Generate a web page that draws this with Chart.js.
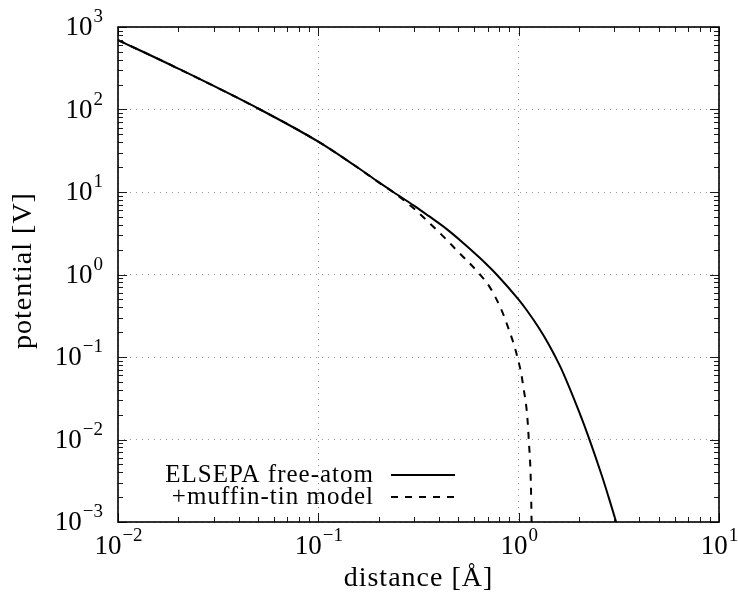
<!DOCTYPE html>
<html>
<head>
<meta charset="utf-8">
<script src="https://cdn.jsdelivr.net/npm/chart.js@4.4.0/dist/chart.umd.min.js"></script>
<style>
  html, body { margin: 0; padding: 0; background: #fff; }
  canvas { display: block; }
</style>
</head>
<body>
<canvas id="potChart" width="738" height="599"></canvas>
<script>
// Data (log-log)
const freeAtomX = [0.01, 0.02, 0.0512, 0.1, 0.15, 0.2, 0.2366, 0.3, 0.355, 0.4375, 0.525, 0.641, 0.776, 1.0, 1.1, 1.26, 1.4, 1.52, 1.65, 2.0, 2.25, 2.6, 2.8, 3.05, 3.3];
const freeAtomY = [695, 313, 100, 40.7, 21.4, 13.2, 10, 6.84, 5.13, 3.55, 2.45, 1.585, 1.0, 0.495, 0.366, 0.226, 0.148, 0.102, 0.068, 0.0219, 0.0102, 0.00366, 0.00207, 0.00104, 0.00052];
const muffinX = [0.01, 0.02, 0.0512, 0.1, 0.15, 0.2, 0.237, 0.3, 0.375, 0.43, 0.489, 0.641, 0.72, 0.807, 0.871, 0.985, 1.05, 1.123, 1.16, 1.17];
const muffinY = [695, 313, 100, 40.7, 21.4, 13.1, 9.9, 6.3, 3.8, 2.74, 1.98, 1.0, 0.693, 0.407, 0.256, 0.1, 0.047, 0.01, 0.001, 0.0001];
const seriesLabels = ['ELSEPA free-atom', '+muffin-tin model'];

const xDecades = [0.01, 0.1, 1, 10];
const xExponents = ['\u22122', '\u22121', '0', '1'];
const yDecades = [0.001, 0.01, 0.1, 1, 10, 100, 1000];
const yExponents = ['\u22123', '\u22122', '\u22121', '0', '1', '2', '3'];
const minorSteps = [2, 3, 4, 5, 6, 7, 8, 9];
const xTitle = 'distance [\u00c5]';
const yTitle = 'potential [V]';

const serif = '"Liberation Serif", "DejaVu Serif", serif';

// draws "10" with a superscript exponent
function drawPower(ctx, exp, x, baseline, align) {
    ctx.font = '27px ' + serif;
    const wBase = ctx.measureText('10').width;
    ctx.font = '19px ' + serif;
    const wExp = ctx.measureText(exp).width;
    let left = x;
    if (align === 'center') left = x - (wBase + wExp) / 2;
    if (align === 'right') left = x - (wBase + wExp);
    ctx.textAlign = 'left';
    ctx.textBaseline = 'alphabetic';
    ctx.font = '27px ' + serif;
    ctx.fillText('10', left, baseline);
    ctx.font = '19px ' + serif;
    ctx.fillText(exp, left + wBase + 1, baseline - 13);
}

const framePlugin = {
    id: 'framePlugin',
    afterDraw(chart) {
        const ctx = chart.ctx;
        const a = chart.chartArea;
        const xs = chart.scales.x, ys = chart.scales.y;
        ctx.save();
        ctx.strokeStyle = '#1a1a1a';
        ctx.lineWidth = 1;
        const seg = (x1, y1, x2, y2) => { ctx.beginPath(); ctx.moveTo(x1, y1); ctx.lineTo(x2, y2); ctx.stroke(); };
        const tickX = (v, len) => {
            const px = Math.round(xs.getPixelForValue(v)) + 0.5;
            seg(px, a.bottom, px, a.bottom - len);
            seg(px, a.top, px, a.top + len);
        };
        const tickY = (v, len) => {
            const py = Math.round(ys.getPixelForValue(v)) + 0.5;
            seg(a.left, py, a.left + len, py);
            seg(a.right, py, a.right - len, py);
        };
        xDecades.forEach((d, i) => {
            tickX(d, 9);
            if (i < xDecades.length - 1) minorSteps.forEach(k => tickX(d * k, 5));
        });
        yDecades.forEach((d, i) => {
            tickY(d, 9);
            if (i < yDecades.length - 1) minorSteps.forEach(k => tickY(d * k, 5));
        });

        // frame
        ctx.strokeStyle = '#000';
        ctx.lineWidth = 1.6;
        ctx.strokeRect(a.left, a.top, a.right - a.left, a.bottom - a.top);

        // tick labels
        ctx.fillStyle = '#000';
        xDecades.forEach((d, i) => drawPower(ctx, xExponents[i], xs.getPixelForValue(d), a.bottom + 32, 'center'));
        yDecades.forEach((d, i) => drawPower(ctx, yExponents[i], a.left - 16, ys.getPixelForValue(d) + 8, 'right'));

        // axis titles
        ctx.font = '28px ' + serif;
        ctx.letterSpacing = '1px';
        ctx.textAlign = 'center';
        ctx.textBaseline = 'alphabetic';
        ctx.fillText(xTitle, (a.left + a.right) / 2, 586);
        ctx.save();
        ctx.translate(31, (a.top + a.bottom) / 2 - 4);
        ctx.rotate(-Math.PI / 2);
        ctx.fillText(yTitle, 0, 0);
        ctx.restore();

        // legend, text on the left of the line sample
        ctx.font = '25px ' + serif;
        ctx.textAlign = 'right';
        chart.data.datasets.forEach((ds, i) => {
            const rowY = 475 + i * 22;
            ctx.fillText(ds.label, 374, rowY + 7);
            ctx.setLineDash(ds.borderDash || []);
            ctx.lineWidth = ds.borderWidth;
            ctx.strokeStyle = ds.borderColor;
            seg(391, rowY, 455, rowY);
        });
        ctx.restore();
    }
};

const gridOpts = { color: '#9a9a9a', lineWidth: 1, drawTicks: false };

new Chart(document.getElementById('potChart').getContext('2d'), {
    type: 'line',
    data: {
        datasets: [
            {
                label: seriesLabels[0],
                data: freeAtomX.map((v, i) => ({ x: v, y: freeAtomY[i] })),
                borderColor: '#000',
                borderWidth: 2,
                pointRadius: 0,
                fill: false,
                cubicInterpolationMode: 'monotone'
            },
            {
                label: seriesLabels[1],
                data: muffinX.map((v, i) => ({ x: v, y: muffinY[i] })),
                borderColor: '#000',
                borderWidth: 2,
                borderDash: [7, 7],
                pointRadius: 0,
                fill: false,
                cubicInterpolationMode: 'monotone'
            }
        ]
    },
    options: {
        responsive: false,
        animation: false,
        events: [],
        layout: { padding: { left: 118, right: 19, top: 27, bottom: 77 } },
        plugins: { legend: { display: false }, tooltip: { enabled: false } },
        scales: {
            x: {
                type: 'logarithmic', min: 0.01, max: 10,
                afterBuildTicks: s => { s.ticks = xDecades.map(v => ({ value: v })); },
                ticks: { display: false },
                grid: gridOpts,
                border: { display: false, dash: [1, 5] }
            },
            y: {
                type: 'logarithmic', min: 0.001, max: 1000,
                afterBuildTicks: s => { s.ticks = yDecades.map(v => ({ value: v })); },
                ticks: { display: false },
                grid: gridOpts,
                border: { display: false, dash: [1, 5] }
            }
        }
    },
    plugins: [framePlugin]
});
</script>
</body>
</html>
